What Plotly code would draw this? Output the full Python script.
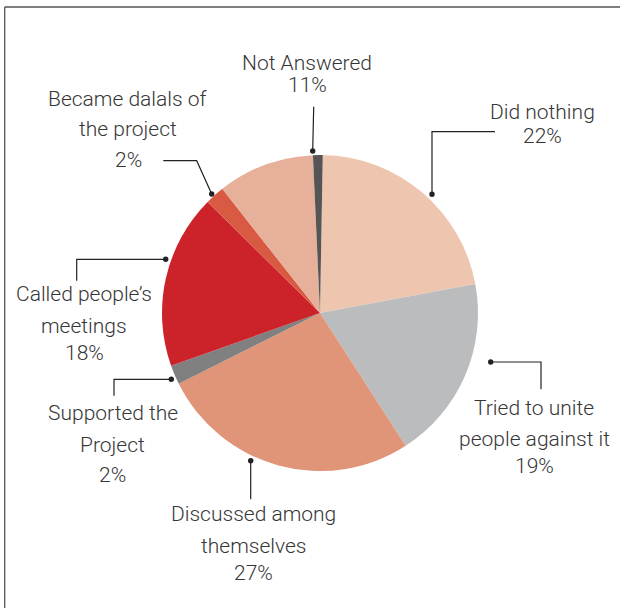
import plotly.graph_objects as go

# Survey responses (percent), clockwise from the top of the pie
categories = [
    "Did nothing",
    "Tried to unite<br>people against it",
    "Discussed among<br>themselves",
    "Supported the<br>Project",
    "Called people’s<br>meetings",
    "Became dalals of<br>the project",
    "Not Answered",
]
percent = [22, 19, 27, 2, 18, 2, 11]
# "Not Answered" is shown as two wedges (light and dark part)
not_answered_parts = [10, 1]

slice_colors = ["#EEC6AF", "#BBBCBE", "#E09578", "#808080",
                "#CC232B", "#D95A43", "#E6B09A", "#555555"]

W, H = 620, 608
CX, CY, R = 320, 313, 158
TEXT_COLOR = "#363636"
FONT = dict(family="Roboto, Liberation Sans, sans-serif", size=21,
            color=TEXT_COLOR, weight=300)

# label placement: centre x and text baseline of each line (pixels)
label_pos = [
    (542, [119.3, 143.3]),
    (534, [415, 446.7, 473]),
    (253, [521.7, 553.3, 580]),
    (112.5, [420.7, 452.7, 482]),
    (84, [301.7, 333.3, 360.7]),
    (128, [106.7, 136.7, 167]),
    (307, [70, 92.7]),
]
# leader lines: polyline ending with a dot on the pie edge (pixels)
leaders = [
    [(495, 131.7), (432, 131.7), (432, 194.3)],
    [(541, 389.3), (541, 362), (490.7, 362)],
    [(250.7, 499.3), (250.7, 460.7)],
    [(114, 395.7), (114, 379.3), (171.3, 379.3)],
    [(76.7, 280.7), (76.7, 259.3), (165.7, 259.3)],
    [(163.3, 160.7), (196.7, 160.7), (211.7, 194)],
    [(313.7, 106.7), (312.7, 151)],
]


def px(x):
    return x / W


def py(y):
    return 1 - y / H


values = percent[:-1] + not_answered_parts
assert sum(not_answered_parts) == percent[-1]

fig = go.Figure(go.Pie(
    values=values,
    sort=False,
    direction="clockwise",
    rotation=1,
    marker=dict(colors=slice_colors, line=dict(width=0)),
    textinfo="none",
    hoverinfo="skip",
    showlegend=False,
    domain=dict(x=[px(CX - R), px(CX + R)], y=[py(CY + R), py(CY - R)]),
))

annotations = []
for name, pct, (x, baselines) in zip(categories, percent, label_pos):
    lines = name.split("<br>") + [f"{pct}%"]
    for line, base in zip(lines, baselines):
        annotations.append(dict(
            x=px(x), y=py(base - 0.35 * FONT["size"]),
            xref="paper", yref="paper", xanchor="center", yanchor="middle",
            text=line, showarrow=False, font=FONT,
        ))

shapes = []
for pts in leaders:
    path = "M " + " L ".join(f"{px(x):.5f},{py(y):.5f}" for x, y in pts)
    shapes.append(dict(type="path", path=path, xref="paper", yref="paper",
                       line=dict(color="#222222", width=1.2)))
    ex, ey = pts[-1]
    r = 2.7
    shapes.append(dict(type="circle", xref="paper", yref="paper",
                       x0=px(ex - r), x1=px(ex + r), y0=py(ey + r), y1=py(ey - r),
                       fillcolor="#222222", line=dict(width=0)))

# frame lines along the top and left edge
shapes.append(dict(type="line", xref="paper", yref="paper",
                   x0=px(4.7), x1=1, y0=py(7), y1=py(7),
                   line=dict(color="#555555", width=1.3)))
shapes.append(dict(type="line", xref="paper", yref="paper",
                   x0=px(4.7), x1=px(4.7), y0=py(7), y1=0,
                   line=dict(color="#555555", width=1.3)))

fig.update_layout(
    width=W, height=H,
    margin=dict(l=0, r=0, t=0, b=0),
    paper_bgcolor="white", plot_bgcolor="white",
    annotations=annotations, shapes=shapes,
)

fig.write_html("out.html")
